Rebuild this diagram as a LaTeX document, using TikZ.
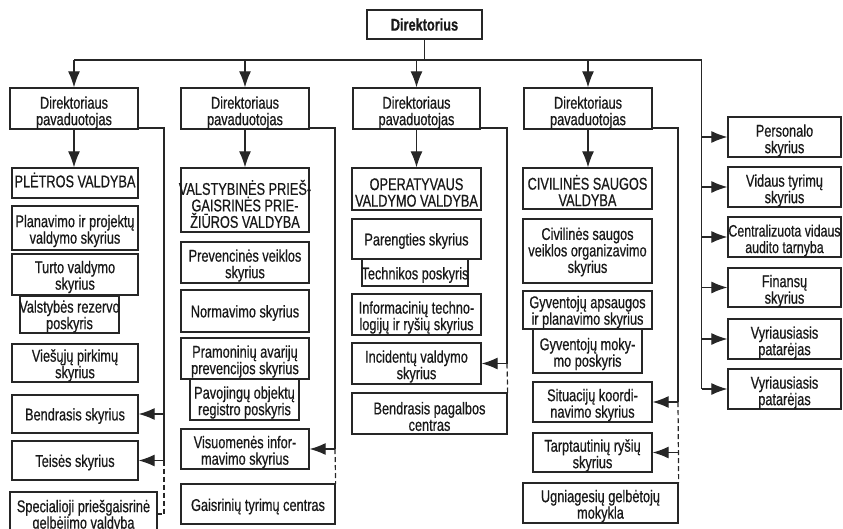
\documentclass[tikz,border=0pt]{standalone}
\usepackage{fontspec}
\setmainfont[FakeStretch=0.75,FakeBold=0.6]{Liberation Sans}
\usetikzlibrary{arrows.meta}
% one framed unit: name, x, y, width, height, vertical text offset, text
\newcommand\orgunit[7]{%
  \node[box,wh={#4}{#5},label={[txt,name=#1t,yshift=#6pt]center:{#7}}] (#1) at (#2,#3) {};}
\begin{document}
\begin{tikzpicture}[x=1pt,y=-1pt,
  txt/.style={align=center, inner sep=0pt, text=black!90, font=\fontsize{17}{16.5}\selectfont},
  box/.style={draw=black!85, line width=1.3pt, inner sep=0pt},
  wh/.style 2 args={minimum width=#1pt, minimum height=#2pt},
  link/.style={draw=black!85, line width=1.2pt},
  arr/.style={link, -{Latex[length=16pt,width=12pt]}},
  sub/.style={link, dash pattern=on 5pt off 3pt},
]
\useasboundingbox (0,0) rectangle (843,528);
\clip (0,0) rectangle (843,528);

% head of the organisation
\node[box, wh={115}{29}, txt, font=\bfseries\fontsize{17}{16.5}\selectfont] (dir) at (424.5,24.5) {Direktorius};

% deputies
\orgunit{p1}{74}{108.5}{128}{41}{-4}{Direktoriaus\\pavaduotojas}
\orgunit{p2}{245}{108.5}{128}{41}{-4}{Direktoriaus\\pavaduotojas}
\orgunit{p3}{416.5}{108.5}{127}{41}{-4}{Direktoriaus\\pavaduotojas}
\orgunit{p4}{588}{108.5}{128}{41}{-4}{Direktoriaus\\pavaduotojas}

% first deputy
\orgunit{a1}{75}{183}{126}{30}{3}{PLĖTROS VALDYBA}
\orgunit{a2}{75}{228}{126}{44}{-3}{Planavimo ir projektų\\valdymo skyrius}
\orgunit{a3}{75}{274.5}{126}{41}{-2.5}{Turto valdymo\\skyrius}
\orgunit{a4}{69.5}{314.5}{99}{37}{-2}{Valstybės rezervo\\poskyris}
\orgunit{a5}{75}{363}{126}{38}{-2.5}{Viešųjų pirkimų\\skyrius}
\orgunit{a6}{75}{414}{126}{38}{-2}{Bendrasis skyrius}
\orgunit{a7}{75}{460.5}{126}{39}{-2}{Teisės skyrius}
\orgunit{a8}{83.5}{514}{147}{44}{-2}{Specialioji priešgaisrinė\\gelbėjimo valdyba}

% second deputy
\orgunit{b1}{245}{200}{128}{64}{-4}{VALSTYBINĖS PRIEŠ-\\GAISRINĖS PRIE-\\ŽIŪROS VALDYBA}
\orgunit{b2}{245}{262.5}{128}{41}{-3}{Prevencinės veiklos\\skyrius}
\orgunit{b3}{245}{311}{128}{42}{-2}{Normavimo skyrius}
\orgunit{b4}{245}{358.5}{128}{41}{-3}{Pramoninių avarijų\\prevencijos skyrius}
\orgunit{b5}{244.5}{399.5}{109}{41}{-3}{Pavojingų objektų\\registro poskyris}
\orgunit{b6}{245}{449}{128}{40}{-3}{Visuomenės infor-\\mavimo skyrius}
\orgunit{b7}{258}{504}{154}{40}{-2.5}{Gaisrinių tyrimų centras}

% third deputy
\orgunit{c1}{416.5}{189}{129}{42}{-3.5}{OPERATYVAUS\\VALDYMO VALDYBA}
\orgunit{c2}{416.5}{239}{129}{40}{-2}{Parengties skyrius}
\orgunit{c3}{415}{272.5}{106}{27}{-2.5}{Technikos poskyris}
\orgunit{c4}{416.5}{314.5}{129}{41}{-3}{Informacinių techno-\\logijų ir ryšių skyrius}
\orgunit{c5}{416.5}{363.5}{129}{41}{-3}{Incidentų valdymo\\skyrius}
\orgunit{c6}{429.5}{413.5}{155}{41}{-3}{Bendrasis pagalbos\\centras}

% fourth deputy
\orgunit{d1}{587.5}{188.5}{129}{41}{-2}{CIVILINĖS SAUGOS\\VALDYBA}
\orgunit{d2}{587.5}{251}{129}{64}{-1}{Civilinės saugos\\veiklos organizavimo\\skyrius}
\orgunit{d3}{587.5}{310}{129}{38}{-2}{Gyventojų apsaugos\\ir planavimo skyrius}
\orgunit{d4}{587.5}{351}{109}{44}{-3}{Gyventojų moky-\\mo poskyris}
\orgunit{d5}{592.5}{402}{119}{40}{-3}{Situacijų koordi-\\navimo skyrius}
\orgunit{d6}{592.5}{452.5}{119}{39}{-3}{Tarptautinių ryšių\\skyrius}
\orgunit{d7}{600.5}{503}{155}{40}{-3}{Ugniagesių gelbėtojų\\mokykla}

% units reporting to the director
\orgunit{e1}{784.5}{137}{113}{40}{-3.5}{Personalo\\skyrius}
\orgunit{e2}{784.5}{187}{113}{40}{-3.5}{Vidaus tyrimų\\skyrius}
\orgunit{e3}{784.5}{237}{113}{40}{-3.5}{{\fontsize{16.5}{16.5}\selectfont Centralizuota vidaus}\\{\fontsize{16.5}{16.5}\selectfont audito tarnyba}}
\orgunit{e4}{784.5}{287.5}{113}{39}{-3.5}{Finansų\\skyrius}
\orgunit{e5}{784.5}{339}{113}{40}{-3.5}{Vyriausiasis\\patarėjas}
\orgunit{e6}{784.5}{389}{113}{40}{-3.5}{Vyriausiasis\\patarėjas}

% main bus
\coordinate (busL) at (74,60);
\coordinate (busR) at (701.5,60);
\draw[link] (dir.south) -- (dir.south |- busL);
\draw[link] (busL) -- (busR) -- (busR |- e6.west);
\foreach \p in {p1,p2,p3,p4} \draw[arr] (busL -| \p.north) -- (\p.north);
\foreach \e in {e1,e2,e3,e4,e5,e6} \draw[arr] (busR |- \e.west) -- (\e.west);

% deputies to their administrations
\draw[arr] (p1.south) -- (p1.south |- a1.north);
\draw[arr] (p2.south) -- (p2.south |- b1.north);
\draw[arr] (p3.south) -- (p3.south |- c1.north);
\draw[arr] (p4.south) -- (p4.south |- d1.north);

% side lines of each deputy
\coordinate (s1) at (164,128);
\coordinate (s2) at (335,128);
\coordinate (s3) at (507,128);
\coordinate (s4) at (678,128);

\draw[link] (p1.east |- s1) -- (s1) -- (s1 |- a7.east);
\draw[arr] (s1 |- a6.east) -- (a6.east);
\draw[arr] (s1 |- a7.east) -- (a7.east);
\draw[sub] (s1 |- a7.east) -- (s1 |- a8.east) -- (a8.east);

\draw[link] (p2.east |- s2) -- (s2) -- (s2 |- b6.east);
\draw[arr] (s2 |- b6.east) -- (b6.east);
\draw[sub] (s2 |- b6.east) -- (b7.north east);

\draw[link] (p3.east |- s3) -- (s3) -- (s3 |- c5.east);
\draw[arr] (s3 |- c5.east) -- (c5.east);
\draw[sub] (s3 |- c5.east) -- (c6.north east);

\draw[link] (p4.east |- s4) -- (s4) -- (s4 |- d5.east);
\draw[arr] (s4 |- d5.east) -- (d5.east);
\draw[sub] (s4 |- d5.east) -- (d7.north east);
\draw[arr] (s4 |- d6.east) -- (d6.east);
\end{tikzpicture}
\end{document}
